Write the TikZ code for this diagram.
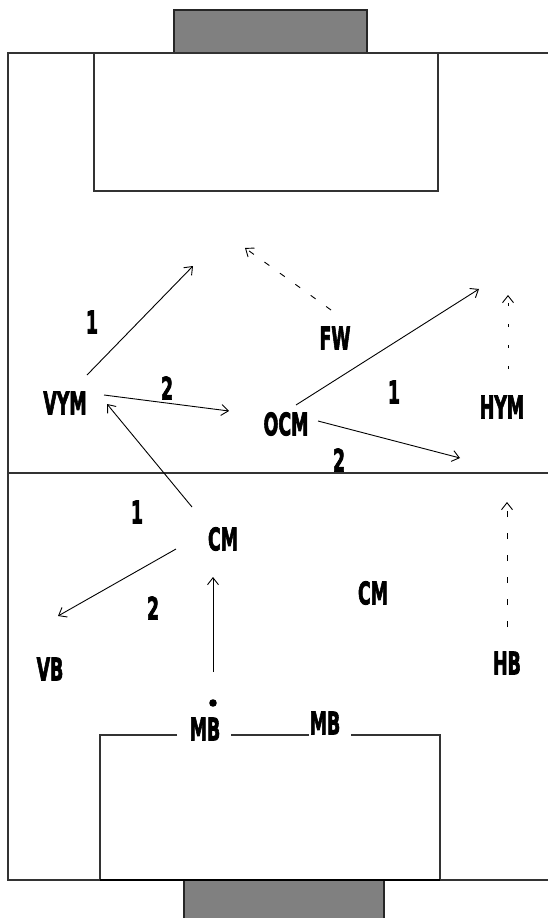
\documentclass[tikz,border=0pt]{standalone}
\usepackage{fontspec}
\setmainfont{DejaVu Sans}
\newfontfamily\lblfont{DejaVu Sans}[FakeBold=3]
\usetikzlibrary{arrows.meta}
\newcommand{\lbltext}[1]{\scalebox{0.56}[1]{\lblfont\bfseries\fontsize{31}{31}\selectfont #1}}
\tikzset{
  field/.style={line width=1.2pt, draw=black!80},
  goal/.style={line width=1.2pt, draw=black!85, fill=black!50},
  lbl/.style={inner sep=0pt},
  pass/.style={line width=0.9pt, -{Straight Barb[length=7pt,width=11pt,line width=0.9pt]}},
  run/.style={line width=0.9pt, dash pattern=on 6pt off 13pt, -{Straight Barb[length=7pt,width=11pt,line width=0.9pt]}},
  runslow/.style={line width=0.9pt, dash pattern=on 6pt off 16pt, -{Straight Barb[length=7pt,width=11pt,line width=0.9pt]}},
  rundot/.style={line width=0.9pt, dash pattern=on 3pt off 18pt, -{Straight Barb[length=7pt,width=11pt,line width=0.9pt]}}
}
\begin{document}
\begin{tikzpicture}[x=1pt,y=-1pt]
\useasboundingbox (0,0) rectangle (548,918);
\clip (0,0) rectangle (548,918);
\fill[white] (0,0) rectangle (548,918);
% field
\draw[field] (560,53) -- (8,53) -- (8,880) -- (560,880);
\draw[field] (8,473) -- (560,473);
% top goal and box
\draw[goal] (174,10) rectangle (367,53);
\draw[field] (94,53) rectangle (438,191);
% bottom box with gaps for labels
\draw[field] (177,735) -- (100,735) -- (100,880);
\draw[field] (231,735) -- (309,735);
\draw[field] (351,735) -- (440,735) -- (440,880);
\draw[goal] (184,880) rectangle (384,930);
\draw[line width=1.6pt] (100,880) -- (440,880);
% labels
\node[lbl] (n1a) at (92,322) {\lbltext{1}};
\node[lbl] (vym) at (65,403) {\lbltext{VYM}};
\node[lbl] (n2a) at (167,388) {\lbltext{2}};
\node[lbl] (fw) at (335,338) {\lbltext{FW}};
\node[lbl] (ocm) at (286,424) {\lbltext{OCM}};
\node[lbl] (n1b) at (394,392) {\lbltext{1}};
\node[lbl] (hym) at (502,407) {\lbltext{HYM}};
\node[lbl] (n2b) at (339,460) {\lbltext{2}};
\node[lbl] (n1c) at (137,512) {\lbltext{1}};
\node[lbl] (cm) at (223,539) {\lbltext{CM}};
\node[lbl] (n2c) at (153,608) {\lbltext{2}};
\node[lbl] (vb) at (50,669) {\lbltext{VB}};
\node[lbl] (cmb) at (373,593) {\lbltext{CM}};
\node[lbl] (hb) at (507,663) {\lbltext{HB}};
\node[lbl] (mba) at (205,729) {\lbltext{MB}};
\node[lbl] (mbb) at (325,723) {\lbltext{MB}};
\coordinate (ball) at (213,703);
\fill[black] (ball) circle (3.8pt);
% connector end points
\coordinate (p1s) at (87,375);  \coordinate (p1e) at (193,266);
\coordinate (p2s) at (104,395); \coordinate (p2e) at (229,411);
\coordinate (p3s) at (296,405); \coordinate (p3e) at (479,289);
\coordinate (p4s) at (318,421); \coordinate (p4e) at (460,458);
\coordinate (p5s) at (192,507); \coordinate (p5e) at (107,404);
\coordinate (p6s) at (176,549); \coordinate (p6e) at (58,616);
\coordinate (p7s) at (213,672); \coordinate (p7e) at (213,577);
\coordinate (r1s) at (331,310); \coordinate (r1e) at (245,248);
\coordinate (r2s) at (508,369); \coordinate (r2e) at (508,295);
\coordinate (r3s) at (507,627); \coordinate (r3e) at (507,502);
% connectors
\draw[pass] (p1s) -- (p1e);
\draw[pass] (p2s) -- (p2e);
\draw[pass] (p3s) -- (p3e);
\draw[pass] (p4s) -- (p4e);
\draw[pass] (p5s) -- (p5e);
\draw[pass] (p6s) -- (p6e);
\draw[pass] (p7s) -- (p7e);
\draw[run] (r1s) -- (r1e);
\draw[rundot] (r2s) -- (r2e);
\draw[runslow] (r3s) -- (r3e);
\end{tikzpicture}
\end{document}
